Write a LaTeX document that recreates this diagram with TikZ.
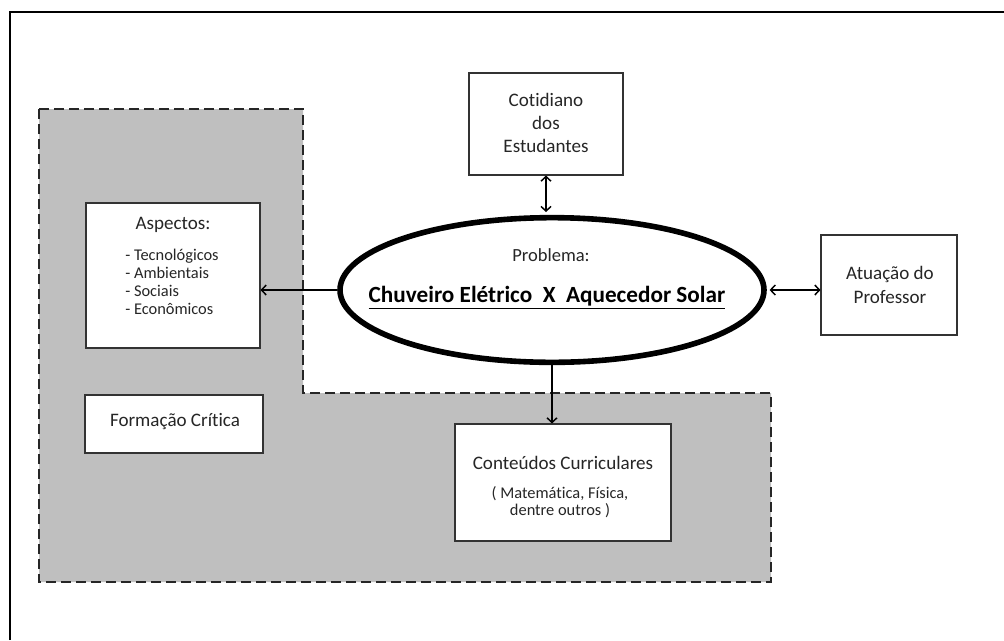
\documentclass[tikz,border=0pt]{standalone}
\usepackage{fontspec}
\setmainfont{Carlito}[Ligatures={NoCommon}]
\usetikzlibrary{arrows.meta}
\usetikzlibrary{fit}
\usetikzlibrary{shapes.geometric}

\tikzset{
    box/.style={
        rectangle, inner sep=0pt,
        draw=black!80, line width=0.8pt,
        fill=white,
    },
    boxtext/.style={
        text=black!85, align=center,
        font=\fontsize{14.3pt}{17.5pt}\selectfont,
    },
    smalltext/.style={
        text=black!85,
        font=\fontsize{12.3pt}{13.6pt}\selectfont,
    },
    link/.style={
        draw=black, line width=1.1pt,
    },
}

\begin{document}
\begin{tikzpicture}[x=0.75pt, y=-0.75pt, >={Straight Barb[length=3.5pt,width=7.5pt]}]
        \useasboundingbox (0,0) rectangle (1004,640);

        \draw[line width=1.9pt] (10,640) -- (10,12) -- (1004,12);

        \draw[
            fill=black!25, draw=black!85, line width=0.9pt,
            dash pattern=on 7.5pt off 3.75pt,
        ] (39,109) -- (303,109) -- (303,393) -- (771,393)
          -- (771,582) -- (39,582) -- cycle;

        \node (aspects) [box, fit={(86,203) (260,348)}] {};
        \node (critical) [box, fit={(85,395) (263,453)}] {};
        \node (contents) [box, fit={(455,424) (671,541)}] {};
        \node (daily) [box, fit={(469,73) (623,175)}] {};
        \node (teacher) [box, fit={(821,235) (957,335)}] {};

        \node (problem) at(552,290) [
            ellipse, inner sep=0pt,
            minimum width=318pt, minimum height=108.5pt,
            draw=black, line width=4.2pt,
            fill=white,
        ] {};

        \node (aspectsTitle) at(173,225) [boxtext] {Aspectos:};
        \node (aspectsList) at(172,282) [smalltext, align=left] {%
            - Tecnológicos\\ - Ambientais\\ - Sociais\\ - Econômicos};
        \node (criticalText) at(175,422) [boxtext] {Formação Crítica};
        \node (dailyText) at(546,123) [boxtext] {Cotidiano\\ dos\\ Estudantes};
        \node (teacherText) at(890,285) [boxtext] {Atuação do\\ Professor};
        \node (contentsTitle) at(563,463) [boxtext] {Conteúdos Curriculares};
        \node (contentsList) at(560,502) [
            smalltext, align=center,
            font=\fontsize{12.3pt}{12.8pt}\selectfont,
        ] {( Matemática, Física,\\ dentre outros )};
        \node (problemTitle) at(551,255) [
            text=black!85,
            font=\fontsize{13.9pt}{16pt}\selectfont,
        ] {Problema:};
        \node (problemText) at(547,298) [
            text=black,
            font=\fontsize{17.4pt}{20pt}\selectfont\bfseries,
        ] {\underline{Chuveiro Elétrico\ \ X\ \ Aquecedor Solar}};

        \draw[link, ->] (problem.west) -- (problem.west -| aspects.east);
        \draw[link, <->] ([xshift=2.1pt]problem.east) -- (problem.east -| teacher.west);
        \draw[link, <->, shorten >=2.1pt] (daily.south) -- (daily.south |- problem.north);
        \draw[link, ->] (problem.south) -- (problem.south |- contents.north);
    \end{tikzpicture}
\end{document}
